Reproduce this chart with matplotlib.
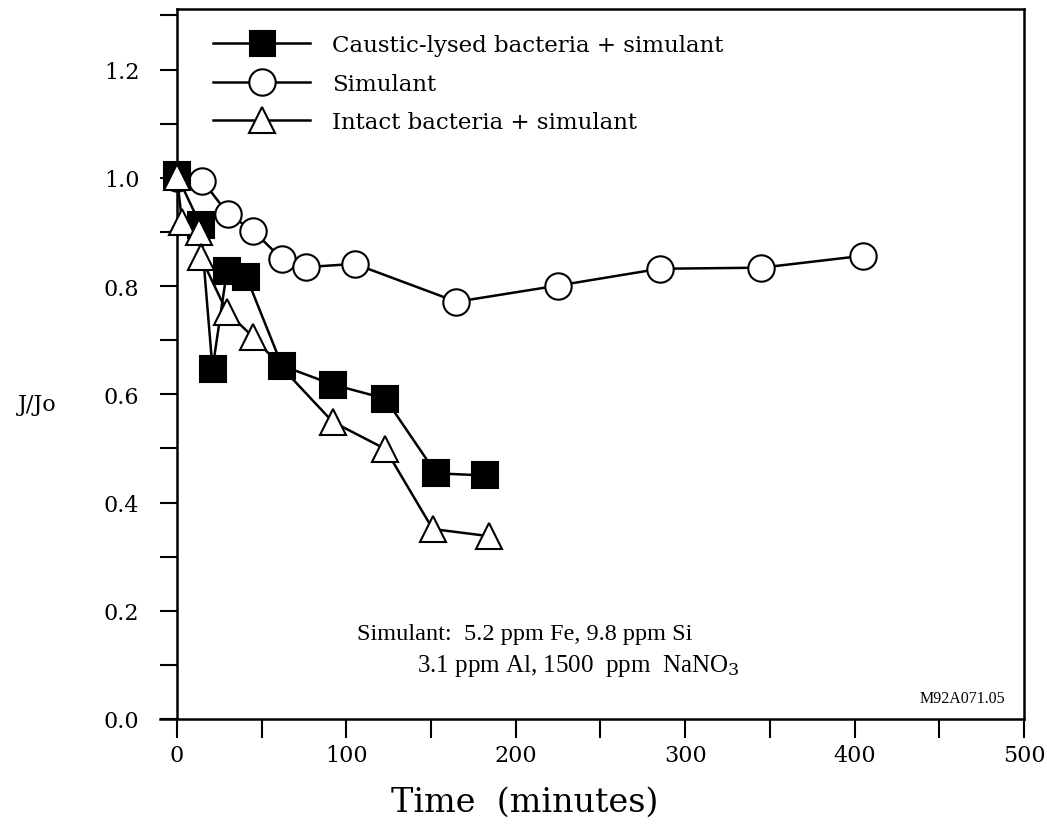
import matplotlib
matplotlib.use("Agg")
import matplotlib.pyplot as plt
from matplotlib.lines import Line2D
from matplotlib.ticker import MultipleLocator

# ---- data ----
caustic_t = [0, 14, 21, 29.5, 41, 62, 92, 123, 153, 182]
caustic_j = [1.005, 0.912, 0.647, 0.828, 0.817, 0.653, 0.618, 0.592, 0.454, 0.450]

simulant_t = [0, 15, 30, 45, 62, 76, 105, 165, 225, 285, 345, 405]
simulant_j = [1.0, 0.995, 0.934, 0.902, 0.850, 0.835, 0.841, 0.771, 0.801, 0.832, 0.834, 0.856]

intact_t = [0, 3, 13, 14, 29.5, 45, 92, 123, 151, 184]
intact_j = [1.002, 0.918, 0.900, 0.854, 0.752, 0.706, 0.549, 0.499, 0.351, 0.338]

labels = ["Caustic-lysed bacteria + simulant", "Simulant", "Intact bacteria + simulant"]
xticks = [0, 100, 200, 300, 400, 500]
yticks = [0.0, 0.2, 0.4, 0.6, 0.8, 1.0, 1.2]

W, H = 1047, 828
fig = plt.figure(figsize=(W / 100, H / 100), dpi=100)
ax = fig.add_axes([160 / W, 1 - 720 / H, (1024 - 160) / W, (720 - 10) / H])
ax.set_xlim(-10, 500)
ax.set_ylim(0, 1.312)

lw = 1.8
ms = 19
mew = 1.5

ax.plot(simulant_t, simulant_j, color="black", lw=lw, marker="o", ms=ms,
        mfc="white", mec="black", mew=mew, zorder=2)
ax.plot(intact_t, intact_j, color="black", lw=lw, zorder=2.5)
ax.plot(caustic_t, caustic_j, color="black", lw=lw, marker="s", ms=19,
        mfc="black", mec="black", mew=mew, zorder=3)
ax.plot(intact_t, intact_j, linestyle="none", marker="^", ms=ms,
        mfc="white", mec="black", mew=mew, zorder=4)

# spines
for s in ax.spines.values():
    s.set_linewidth(1.8)
ax.spines["left"].set_position(("data", 0))
ax.spines["top"].set_bounds(0, 500)

serif = "DejaVu Serif"
ax.set_xticks(xticks)
ax.set_xticklabels([str(v) for v in xticks], family=serif, fontsize=16)
ax.xaxis.set_minor_locator(MultipleLocator(50))
ax.set_yticks(yticks)
ax.set_yticklabels([f"{v:.1f}" for v in yticks], family=serif, fontsize=16)
ax.yaxis.set_minor_locator(MultipleLocator(0.1))
ax.tick_params(axis="x", which="both", direction="out", length=14, width=1.5, pad=4)
ax.tick_params(axis="y", which="both", direction="out", length=12, width=1.5, pad=15)

# legend
handles = [
    Line2D([], [], color="black", lw=lw, marker="s", ms=18, mfc="black", mec="black", mew=mew),
    Line2D([], [], color="black", lw=lw, marker="o", ms=19, mfc="white", mec="black", mew=mew),
    Line2D([], [], color="black", lw=lw, marker="^", ms=19, mfc="white", mec="black", mew=mew),
]
ax.legend(handles, labels, loc="upper left", bbox_to_anchor=(213 / W, 1 - 35 / H),
          bbox_transform=fig.transFigure, frameon=False, prop={"family": serif, "size": 16.5},
          handlelength=4.24, handletextpad=0.97, labelspacing=0.73, borderpad=0,
          borderaxespad=0, markerscale=1.0)

fig.text(357 / W, 1 - 640 / H, "Simulant:  5.2 ppm Fe, 9.8 ppm Si", family="Liberation Serif",
         fontsize=17.5, va="baseline", ha="left")
fig.text(417 / W, 1 - 672 / H, "3.1 ppm Al, 1500  ppm  NaNO$_3$", family="Liberation Serif",
         fontsize=18, va="baseline", ha="left", math_fontfamily="dejavuserif")
fig.text(1005 / W, 1 - 703 / H, "M92A071.05", family="Liberation Serif", fontsize=11.5,
         va="baseline", ha="right")
fig.text(18 / W, 1 - 405 / H, "J/Jo", family=serif, fontsize=16, va="center", ha="left")
fig.text(525 / W, 1 - 803 / H, "Time  (minutes)", family=serif, fontsize=24, va="center", ha="center")

fig.savefig("out.png", dpi=100)
